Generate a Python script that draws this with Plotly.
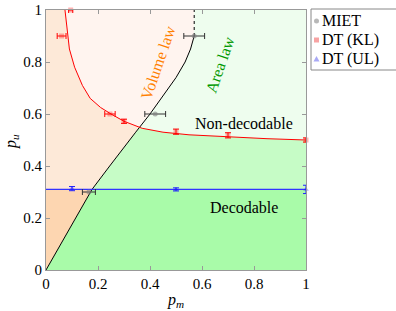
import numpy as np
import plotly.graph_objects as go

# ---------------- data ----------------
# MIET transition points (with horizontal error bars)
miet_pm = [0.165, 0.42, 0.57]
miet_pu = [0.30, 0.60, 0.90]
miet_err_pm = [0.025, 0.04, 0.04]

# DT (KL) points
kl_pm = [0.095, 0.06, 0.246, 0.30, 0.50, 0.70, 1.00]
kl_pu = [1.00, 0.90, 0.60, 0.572, 0.532, 0.518, 0.50]
kl_err_pm = [0.008, 0.017, 0.02, 0.0, 0.0, 0.0, 0.0]
kl_err_pu = [0.0, 0.0, 0.0, 0.008, 0.01, 0.01, 0.008]

# DT (UL) points
ul_pm = [0.10, 0.50, 1.00]
ul_pu = [0.313, 0.31, 0.31]
ul_err_pu = [0.008, 0.006, 0.016]
ul_threshold = 0.31

# Volume/area-law boundary (black curve), pm as function of pu
miet_curve_pu = [0.0, 0.10, 0.20, 0.31, 0.40, 0.46, 0.53, 0.60, 0.67, 0.74, 0.80, 0.85, 0.90]
miet_curve_pm = [0.0, 0.057, 0.117, 0.177, 0.245, 0.29, 0.345, 0.40, 0.45, 0.50, 0.535, 0.556, 0.57]

# KL decodability boundary (red curve), pu as function of pm
kl_curve_pm = [0.073, 0.080, 0.090, 0.110, 0.140, 0.170, 0.210, 0.250, 0.300, 0.370, 0.450, 0.550, 0.700, 0.850, 1.000]
kl_curve_pu = [1.000, 0.930, 0.850, 0.780, 0.710, 0.660, 0.625, 0.600, 0.572, 0.545, 0.530, 0.520, 0.512, 0.505, 0.500]

xtick_vals = [0, 0.2, 0.4, 0.6, 0.8, 1]
xtick_text = ["0", "0.2", "0.4", "0.6", "0.8", "1"]
ytick_vals = [0, 0.2, 0.4, 0.6, 0.8, 1]
ytick_text = ["0", "0.2", "0.4", "0.6", "0.8", "1"]

# ---------------- region geometry ----------------
def black_pm(pu):
    return float(np.interp(pu, miet_curve_pu, miet_curve_pm))

def red_pu(pm):
    return float(np.interp(pm, kl_curve_pm, kl_curve_pu))

lo, hi = ul_threshold, miet_curve_pu[-1]
for _ in range(60):
    mid = 0.5 * (lo + hi)
    if red_pu(black_pm(mid)) - mid > 0:
        lo = mid
    else:
        hi = mid
pux = 0.5 * (lo + hi)
pmx = black_pm(pux)

def black_path(a, b):
    pts = [(black_pm(a), a)]
    pts += [(m, u) for m, u in zip(miet_curve_pm, miet_curve_pu) if a < u < b]
    pts += [(black_pm(b), b)]
    return pts

def red_path(a, b):
    pts = [(a, red_pu(a))]
    pts += [(m, u) for m, u in zip(kl_curve_pm, kl_curve_pu) if a < m < b]
    pts += [(b, red_pu(b))]
    return pts

pm0 = kl_curve_pm[0]
pm_top, pu_top = miet_curve_pm[-1], miet_curve_pu[-1]
ul = ul_threshold

regions = [
    (black_path(0, ul) + [(0, ul)], "#fdd6b1"),
    ([(0, ul)] + black_path(ul, pux) + red_path(pm0, pmx)[::-1] + [(0, 1)], "#fde9d8"),
    (red_path(pm0, pmx) + black_path(pux, pu_top) + [(pm_top, 1)], "#fff4ef"),
    (black_path(0, ul) + [(1, ul), (1, 0)], "#a9fba9"),
    (black_path(ul, pux) + red_path(pmx, 1) + [(1, ul)], "#c6fcc6"),
    (black_path(pux, pu_top) + [(pm_top, 1), (1, 1)] + red_path(pmx, 1)[::-1], "#eefdee"),
]

fig = go.Figure()
for pts, col in regions:
    xs = [p[0] for p in pts]
    ys = [p[1] for p in pts]
    fig.add_trace(go.Scatter(x=xs, y=ys, mode="lines", fill="toself", fillcolor=col,
                             line=dict(width=0), hoverinfo="skip", showlegend=False))

# boundary curves
fig.add_trace(go.Scatter(x=miet_curve_pm, y=miet_curve_pu, mode="lines",
                         line=dict(color="black", width=1), showlegend=False, hoverinfo="skip"))
fig.add_trace(go.Scatter(x=[pm_top, pm_top], y=[pu_top, 1], mode="lines",
                         line=dict(color="black", width=1, dash="dot"), showlegend=False, hoverinfo="skip"))
fig.add_trace(go.Scatter(x=kl_curve_pm, y=kl_curve_pu, mode="lines",
                         line=dict(color="red", width=1), showlegend=False, hoverinfo="skip"))
fig.add_trace(go.Scatter(x=[0, 1], y=[ul_threshold, ul_threshold], mode="lines",
                         line=dict(color="#3333ff", width=1.3), showlegend=False, hoverinfo="skip"))

# data points
fig.add_trace(go.Scatter(x=miet_pm, y=miet_pu, mode="markers", name="MIET",
                         marker=dict(symbol="circle", size=5, color="rgba(128,128,128,0.6)"),
                         error_x=dict(type="data", array=miet_err_pm, color="#333333", thickness=1, width=3),
                         cliponaxis=False, showlegend=False))

ix = [i for i, e in enumerate(kl_err_pm) if e > 0]
iy = [i for i, e in enumerate(kl_err_pu) if e > 0]
fig.add_trace(go.Scatter(x=[kl_pm[i] for i in ix], y=[kl_pu[i] for i in ix], mode="markers",
                         marker=dict(symbol="square", size=5, color="rgba(255,0,0,0.3)"),
                         error_x=dict(type="data", array=[kl_err_pm[i] for i in ix], color="red", thickness=1, width=3),
                         cliponaxis=False, showlegend=False))
fig.add_trace(go.Scatter(x=[kl_pm[i] for i in iy], y=[kl_pu[i] for i in iy], mode="markers",
                         marker=dict(symbol="square", size=5, color="rgba(255,0,0,0.3)"),
                         error_y=dict(type="data", array=[kl_err_pu[i] for i in iy], color="red", thickness=1, width=3),
                         cliponaxis=False, showlegend=False))
fig.add_trace(go.Scatter(x=ul_pm, y=ul_pu, mode="markers",
                         marker=dict(symbol="triangle-up", size=5, color="rgba(0,0,255,0.3)"),
                         error_y=dict(type="data", array=ul_err_pu, color="#2222ff", thickness=1, width=3),
                         cliponaxis=False, showlegend=False))

SERIF = "Liberation Serif"
annots = [
    dict(x=0.43, y=0.80, text="Volume law", textangle=-71, font=dict(color="#ff8000", size=16)),
    dict(x=0.67, y=0.79, text="Area law", textangle=-71, font=dict(color="#009900", size=16)),
    dict(x=0.762, y=0.565, text="Non-decodable", font=dict(color="black", size=16)),
    dict(x=0.762, y=0.242, text="Decodable", font=dict(color="black", size=16)),
]
for a in annots:
    a.update(xref="x", yref="y", showarrow=False)
    a["font"]["family"] = SERIF

# manual legend (pixel helpers relative to the plot area)
L, T, W, H = 46, 10, 260, 260
def px(x):
    return (x - L) / W
def py(y):
    return (T + H - y) / H

# y-axis title as a rotated annotation
annots.append(dict(xref="paper", yref="paper", x=px(11), y=py(142), xanchor="center", yanchor="middle",
                   text="<i>p</i><sub><i>u</i></sub>", textangle=-90, showarrow=False,
                   font=dict(family=SERIF, size=16, color="black")))

legend_rows = [("MIET", 21), ("DT (KL)", 40), ("DT (UL)", 59)]
for label, yy in legend_rows:
    annots.append(dict(xref="paper", yref="paper", x=px(320), y=py(yy), xanchor="left", yanchor="middle",
                       text=label, showarrow=False, font=dict(family=SERIF, size=16, color="black")))

shapes = [
    dict(type="rect", xref="paper", yref="paper", x0=px(311), x1=px(402), y0=py(70), y1=py(9),
         line=dict(color="#888888", width=1), fillcolor="white", layer="above"),
    dict(type="circle", xref="paper", yref="paper", x0=px(314), x1=px(319), y0=py(23.5), y1=py(18.5),
         line=dict(width=0), fillcolor="#b8b8b8", layer="above"),
    dict(type="rect", xref="paper", yref="paper", x0=px(314), x1=px(319), y0=py(42.5), y1=py(37.5),
         line=dict(width=0), fillcolor="#f7a3a3", layer="above"),
    dict(type="path", xref="paper", yref="paper",
         path="M {:.4f},{:.4f} L {:.4f},{:.4f} L {:.4f},{:.4f} Z".format(px(313.5), py(61.5), px(319.5), py(61.5), px(316.5), py(56)),
         line=dict(width=0), fillcolor="#a9a9f5", layer="above"),
]

axis_common = dict(range=[0, 1], showline=True, linecolor="#999999", linewidth=1, mirror="ticks",
                   ticks="inside", ticklen=4, tickcolor="#999999", showgrid=False, zeroline=False,
                   automargin=False, tickfont=dict(family=SERIF, size=15, color="black"))

fig.update_layout(
    width=396, height=311, autosize=False,
    margin=dict(l=L, r=396 - L - W, t=T, b=311 - T - H, autoexpand=False),
    paper_bgcolor="white", plot_bgcolor="white",
    font=dict(family=SERIF),
    xaxis=dict(tickvals=xtick_vals, ticktext=xtick_text,
               title=dict(text="<i>p</i><sub><i>m</i></sub>", font=dict(family=SERIF, size=16, color="black"), standoff=2),
               **axis_common),
    yaxis=dict(tickvals=ytick_vals, ticktext=ytick_text, **axis_common),
    annotations=annots, shapes=shapes, showlegend=False,
)

fig.write_html("out.html", config={"displayModeBar": False},
               post_script="document.body.style.margin='0px';document.body.style.overflow='hidden';")
